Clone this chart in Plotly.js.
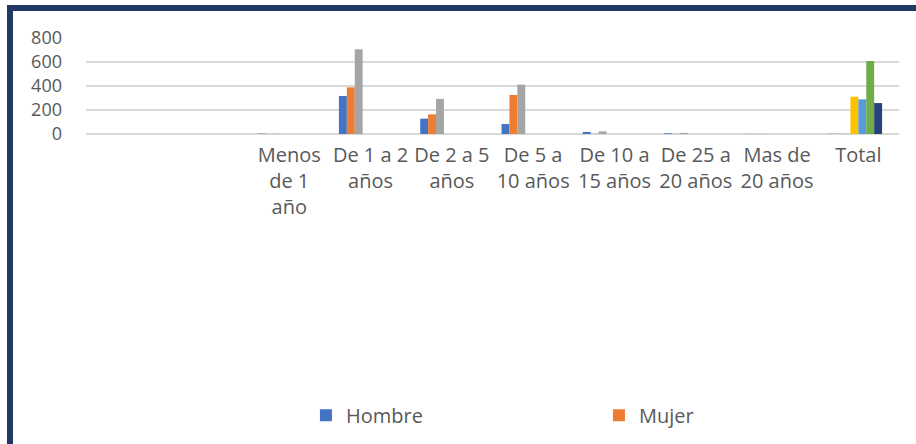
<!DOCTYPE html>
<html>
<head>
<meta charset="utf-8">
<script src="https://cdn.plot.ly/plotly-3.0.1.min.js"></script>
<style>
  html, body { margin: 0; padding: 0; background: #fff; }
  #wrap { position: relative; width: 916px; height: 444px; overflow: hidden; }
  #chart { position: absolute; left: 0; top: 0; width: 916px; height: 444px; }
  #frame { position: absolute; left: 7px; top: 5px; width: 920px; height: 436px;
           border-left: 6px solid #203864; border-top: 6px solid #203864;
           border-bottom: 2px solid #d9d9d9; pointer-events: none; }
</style>
</head>
<body>
<div id="wrap">
  <div id="chart"></div>
  <div id="frame"></div>
</div>
<script>
// Categories (first two are empty in the source chart)
var categories = ["", "", "Menos<br>de 1<br>año", "De 1 a 2<br>años", "De 2 a 5<br>años",
                  "De 5 a<br>10 años", "De 10 a<br>15 años", "De 25 a<br>20 años",
                  "Mas de<br>20 años", "Total"];

var seriesNames = ["Hombre", "Mujer", "Serie 3", "Serie 4", "Serie 5", "Serie 6", "Serie 7", "Serie 8"];
var hombre  = [0, 0, 3, 317, 128, 83, 17, 6, 1, 2];
var mujer   = [0, 0, 1, 389, 164, 325, 2, 2, 1, 2];
var serie3  = [0, 0, 3, 706, 292, 411, 22, 9, 1, 2];
var serie4  = [0, 0, 0, 0, 0, 0, 0, 0, 0, 311];
var serie5  = [0, 0, 0, 0, 0, 0, 0, 0, 0, 289];
var serie6  = [0, 0, 0, 0, 0, 0, 0, 0, 0, 608];
var serie7  = [0, 0, 0, 0, 0, 0, 0, 0, 0, 258];
var serie8  = [0, 0, 0, 0, 0, 0, 0, 0, 0, 0];
var yTicks  = [0, 200, 400, 600, 800];

var colors = ["#4472C4", "#ED7D31", "#A5A5A5", "#FFC000", "#5B9BD5", "#70AD47", "#264478", "#9E480E"];
var allSeries = [hombre, mujer, serie3, serie4, serie5, serie6, serie7, serie8];
var xIdx = categories.map(function (c, i) { return i; });

var traces = allSeries.map(function (vals, k) {
  return {
    type: "bar",
    name: seriesNames[k],
    x: xIdx,
    y: vals,
    marker: { color: colors[k], line: { width: 0 } },
    showlegend: k < 2,
    hoverinfo: "x+y+name"
  };
});

var textColor = "#595959";
var layout = {
  width: 916, height: 444,
  margin: { l: 86, r: 17, t: 37.5, b: 310, pad: 0 },
  paper_bgcolor: "#ffffff",
  plot_bgcolor: "#ffffff",
  barmode: "group",
  bargap: 0.222,
  bargroupgap: 0,
  font: { family: "'Open Sans', 'Liberation Sans', sans-serif", color: textColor },
  xaxis: {
    type: "linear",
    range: [-0.5, categories.length - 0.5],
    tickmode: "array",
    tickvals: xIdx,
    ticktext: categories,
    showgrid: false,
    zeroline: false,
    showline: false,
    ticks: "",
    ticklabelstandoff: 7,
    tickfont: { size: 20, color: textColor, family: "'Open Sans', sans-serif" },
    fixedrange: true
  },
  yaxis: {
    range: [0, 800],
    tickmode: "array",
    tickvals: yTicks,
    ticktext: yTicks.map(String),
    showgrid: true,
    gridcolor: "#d9d9d9",
    gridwidth: 1.5,
    zeroline: true,
    zerolinecolor: "#d9d9d9",
    zerolinewidth: 1.5,
    showline: false,
    ticks: "",
    ticklabelstandoff: 23,
    tickfont: { size: 18, color: textColor, family: "'Open Sans', sans-serif" },
    fixedrange: true
  },
  legend: {
    orientation: "h",
    xref: "container", yref: "container",
    x: 0.334, xanchor: "left",
    y: 0.065, yanchor: "middle",
    entrywidth: 248, entrywidthmode: "pixels",
    font: { size: 20, color: textColor, family: "'Open Sans', sans-serif" },
    bgcolor: "rgba(0,0,0,0)",
    borderwidth: 0,
    traceorder: "normal"
  },
  showlegend: true
};

Plotly.newPlot("chart", traces, layout, { displayModeBar: false, staticPlot: true });
</script>
</body>
</html>
